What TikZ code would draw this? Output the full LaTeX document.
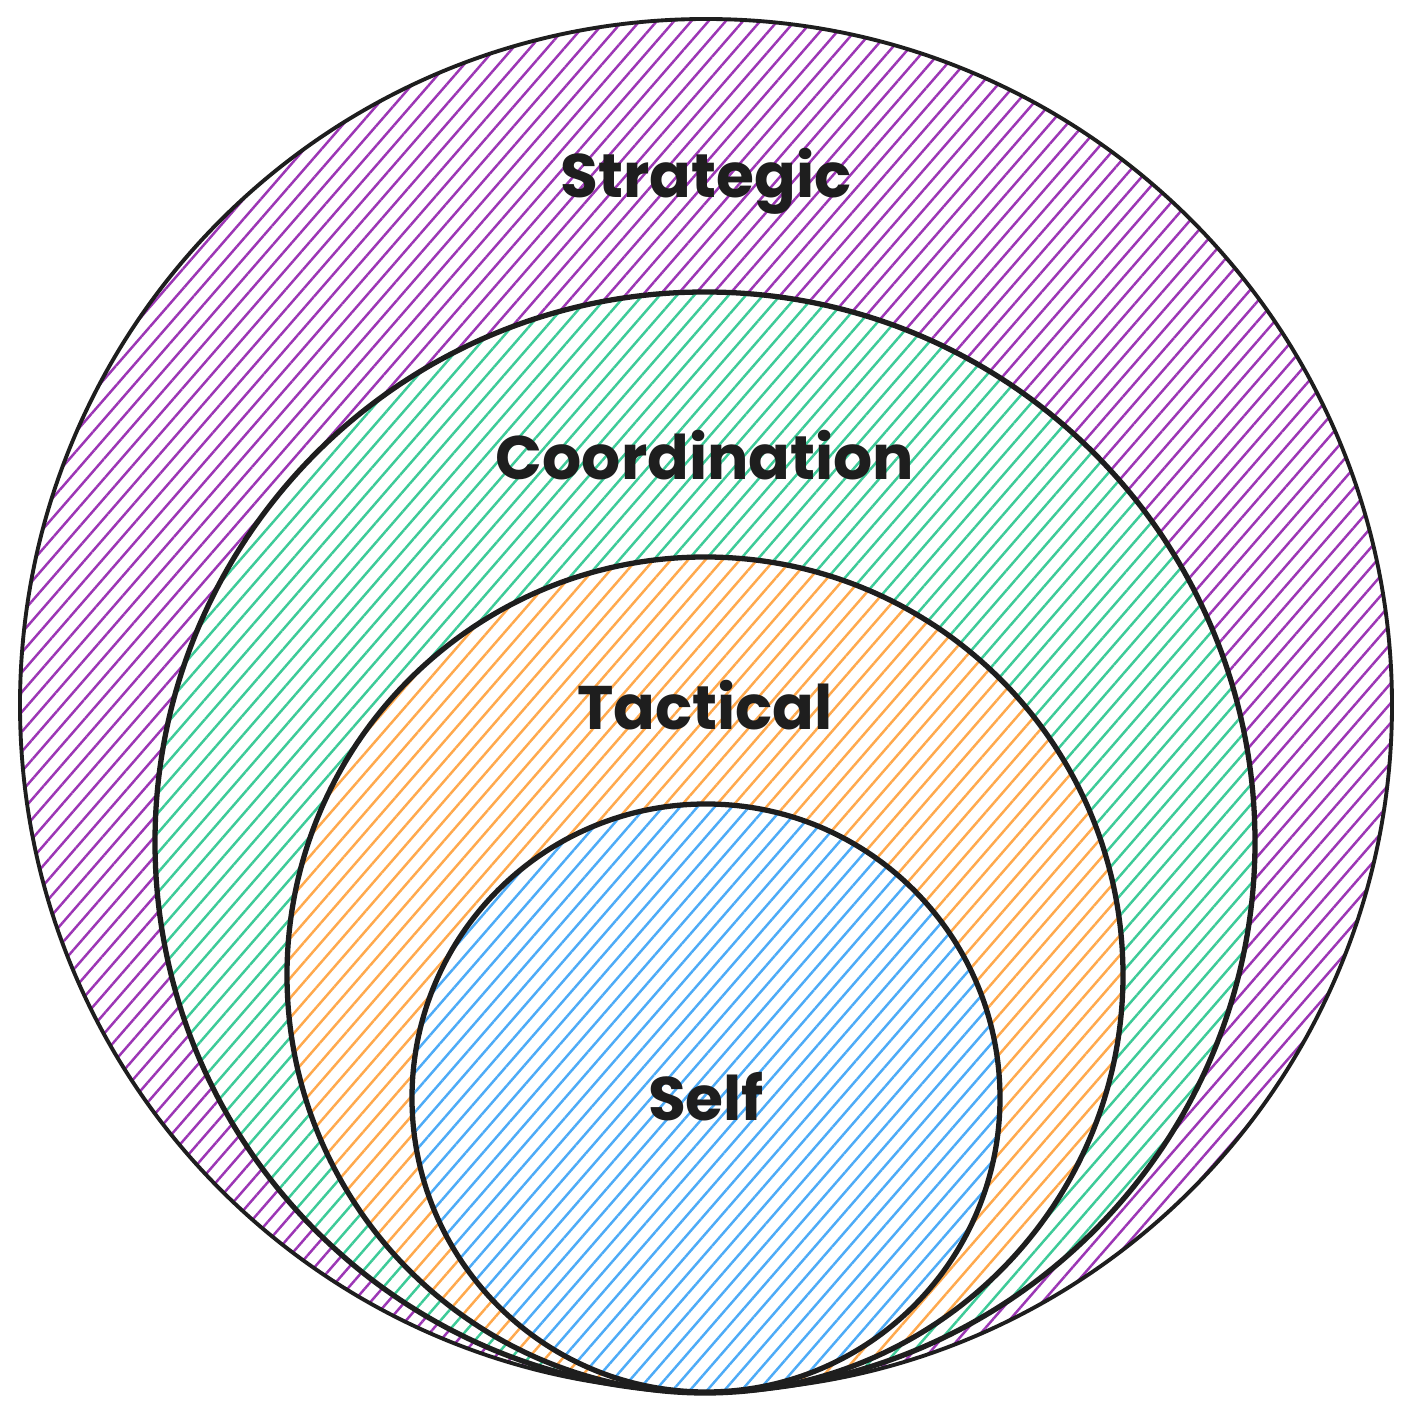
\documentclass[tikz,border=0pt]{standalone}
\usepackage{fontspec}
\setmainfont{Poppins}
\usepackage{tikz}
\usetikzlibrary{patterns.meta,positioning}

\definecolor{inkblack}{HTML}{1E1E1E}
\definecolor{grape}{HTML}{9C36B5}
\definecolor{teal}{HTML}{3DCB98}
\definecolor{amber}{HTML}{FFA94D}
\definecolor{sky}{HTML}{4DABF7}

\begin{document}
\begin{tikzpicture}[
      ring/.style={circle, draw=inkblack, line width=1.5pt, inner sep=0pt, outer sep=0pt,
                   preaction={fill=white},
                   pattern={Lines[angle=49, distance=3.7pt, line width=0.7pt]}},
      lbl/.style={anchor=base, text=inkblack, font=\fontsize{17.5}{20}\selectfont\bfseries}
    ]
    \fill[white] (0,0) rectangle (14.11,14.11);
    \useasboundingbox (0,0) rectangle (14.11,14.11);
    % nested rings, all touching at the bottom
    \node[ring, minimum size=13.72cm, pattern color=grape, line width=1.1pt] (strat) at (7.06,7.06) {};
    \node[ring, minimum size=11.00cm, pattern color=teal]  (coord) at (7.05,5.69) {};
    \node[ring, minimum size=8.36cm,  pattern color=amber] (tact)  at (7.05,4.36) {};
    \node[ring, minimum size=5.88cm,  pattern color=sky]   (self)  at (7.06,3.13) {};
    % labels
    \node[lbl] (stratlbl) at ([yshift=-1.79cm]strat.north) {Strategic};
    \node[lbl] (coordlbl) at ([yshift=-1.88cm]coord.north) {Coordination};
    \node[lbl] (tactlbl)  at ([yshift=-1.73cm]tact.north)  {Tactical};
    \node[lbl] (selflbl)  at ([yshift=-3.17cm]self.north)  {Self};
  \end{tikzpicture}
\end{document}
